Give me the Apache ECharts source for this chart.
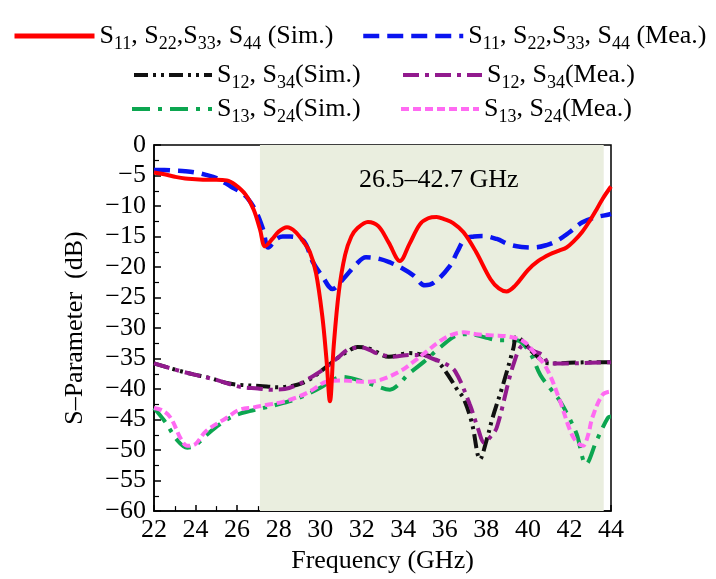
<!DOCTYPE html>
<html><head><meta charset="utf-8">
<script src="https://cdn.jsdelivr.net/npm/echarts@6/dist/echarts.min.js"></script>
<style>html,body{margin:0;padding:0;background:#fff}#c{width:716px;height:579px}</style>
</head><body><div id="c"></div>
<script>
// ---------- data ----------
const xTicks = [22,24,26,28,30,32,34,36,38,40,42,44];
const bandRange = [27.1, 43.65];
const bandLabel = '26.5–42.7 GHz';

const s11SimF = [22,22.5,23,23.5,24,24.5,25,25.5,25.9,26.4,26.8,27.1,27.35,27.7,28.0,28.4,28.8,29.2,29.5,29.8,30.1,30.3,30.47,30.65,30.9,31.2,31.5,31.8,32.3,32.8,33.3,33.84,34.3,34.8,35.2,35.6,36.0,36.4,36.9,37.5,38.2,38.6,38.97,39.4,40.0,40.5,41.06,41.5,41.86,42.2,42.6,43.0,43.3,43.6,44];
const s11SimV = [-4.5,-4.8,-5.2,-5.5,-5.6,-5.7,-5.7,-5.8,-6.5,-8.1,-10.6,-13.8,-16.6,-15.4,-14.2,-13.5,-14.2,-15.9,-17.5,-21,-28,-35,-42,-33,-24,-18,-15,-13.6,-12.6,-13.3,-16,-19,-16.2,-13,-12,-11.8,-12.2,-12.8,-14.3,-17.5,-22,-23.5,-24,-23,-20.5,-19,-17.9,-17.3,-16.8,-15.8,-14.3,-12.3,-10.6,-8.8,-6.8];

const s11MeaF = [22,22.5,23,23.5,24,24.5,25,25.7,26.2,26.5,26.9,27.25,27.5,27.9,28.2,28.55,29.2,29.65,30.1,30.6,31.1,31.75,32.2,32.9,33.4,33.84,34.5,35.04,35.5,36.25,36.6,36.97,37.4,37.8,38.5,39.1,39.7,40.3,40.9,41.4,42.0,42.6,43.2,43.9,44];
const s11MeaV = [-4.1,-4.1,-4.2,-4.3,-4.5,-4.9,-5.4,-6.8,-7.8,-8.7,-10.8,-13.8,-16.8,-15.4,-15.0,-15.0,-15.7,-19.2,-21.5,-23.6,-22,-19.5,-18.4,-18.7,-19.3,-20,-21.4,-23,-22.5,-19.8,-17.5,-15.4,-15.0,-14.9,-15.4,-16.3,-16.7,-16.8,-16.4,-15.7,-14.3,-12.7,-11.9,-11.4,-11.3];

const s12SimF = [22,23,23.9,24.7,25.5,26.1,27.1,28,28.9,29.5,30.1,30.8,31.3,31.8,32.4,33.3,34.3,35.0,35.4,35.8,36.25,36.6,36.9,37.3,37.7,38.0,38.3,38.8,39.3,39.45,39.8,40.3,41.05,42,43,44];
const s12SimV = [-35.8,-36.8,-37.6,-38.2,-39.0,-39.3,-39.5,-39.7,-39.3,-38.4,-36.9,-35.0,-33.9,-33.1,-33.4,-34.7,-34.1,-34.4,-34.8,-36,-38.2,-40.1,-41.5,-45.5,-51.5,-48.5,-44.7,-39.3,-33.3,-31.4,-32.3,-34.2,-35.8,-35.7,-35.6,-35.6];

const s12MeaF = [22,23,23.9,25,26.1,27,27.6,28.3,28.9,29.35,30.1,30.8,31.5,32.0,32.4,32.7,33.5,34.3,35.0,35.4,36.0,36.5,37.2,37.6,37.9,38.2,38.5,39.3,39.8,40.3,40.7,41.05,42,43,44];
const s12MeaV = [-35.8,-36.8,-37.6,-38.5,-39.6,-39.9,-40.1,-40.0,-39.3,-38.5,-36.9,-35.0,-33.3,-33.2,-33.6,-34.1,-34.7,-34.4,-34.5,-35.0,-35.8,-37.1,-42.5,-46.5,-48.8,-47.8,-46.3,-36.0,-32.8,-33.8,-34.4,-35.8,-35.8,-35.7,-35.6];

const s13SimF = [22,22.5,23.15,23.6,24,24.5,25,25.5,26,26.6,27.4,28.2,28.8,29.35,30,30.6,31.1,31.5,32.1,32.7,33.36,33.8,34.2,35.0,35.8,36.6,37.2,38,38.65,39.45,40.1,40.6,41.1,41.55,42,42.35,42.8,43.3,43.85,44];
const s13SimV = [-43.1,-45.2,-48.5,-49.6,-49.2,-47.6,-46.2,-45.0,-44.2,-43.6,-43,-42.3,-41.7,-40.9,-39.8,-38.5,-38.0,-38.2,-38.8,-39.5,-40.1,-39.2,-37.7,-35.5,-33.1,-31.2,-31.0,-31.6,-32.0,-32.0,-34.1,-37.7,-40,-42,-44.8,-47.4,-52.3,-48.5,-44.7,-44.5];

const s13MeaF = [22,22.4,22.8,23.3,23.6,24,24.5,25.5,26.1,26.8,27.4,28.2,29.0,29.6,30.3,31,31.6,32.2,32.9,33.84,34.5,35.1,35.7,36.25,36.9,37.5,38.3,39.1,39.8,40.3,40.9,41.55,42.0,42.3,42.65,42.9,43.1,43.6,44];
const s13MeaV = [-43.1,-43.5,-44.7,-48.2,-49.3,-49.0,-46.9,-44.7,-43.4,-43.0,-42.6,-42.1,-41.2,-40.2,-38.8,-38.6,-38.7,-38.8,-38.5,-37.1,-35.5,-33.9,-32.3,-31.2,-30.7,-31.0,-31.2,-31.4,-32.2,-34,-36.6,-42,-46.5,-48.5,-49.3,-47.5,-44.7,-40.9,-40.4];

const seriesNames = ['s11sim','s11mea','s12sim','s12mea','s13sim','s13mea'];
const legendRich = {
  s11sim: '{n|S}{s|11}{n|, S}{s|22}{n|,S}{s|33}{n|, S}{s|44}{n| (Sim.)}',
  s11mea: '{n|S}{s|11}{n|, S}{s|22}{n|,S}{s|33}{n|, S}{s|44}{n| (Mea.)}',
  s12sim: '{n|S}{s|12}{n|, S}{s|34}{n|(Sim.)}',
  s12mea: '{n|S}{s|12}{n|, S}{s|34}{n|(Mea.)}',
  s13sim: '{n|S}{s|13}{n|, S}{s|24}{n|(Sim.)}',
  s13mea: '{n|S}{s|13}{n|, S}{s|24}{n|(Mea.)}'
};

// ---------- chart ----------
const FONT = "'Liberation Serif', 'Times New Roman', serif";
const zip = (f, v) => f.map((x, i) => [x, v[i]]);
const chart = echarts.init(document.getElementById('c'), null, {renderer: 'canvas'});

const styles = {
  s11sim: {color: '#ff0000', width: 4, type: 'solid'},
  s11mea: {color: '#0a14f0', width: 4.5, type: [16, 8]},
  s12sim: {color: '#111111', width: 4, type: [14, 5, 3, 5, 3, 5]},
  s12mea: {color: '#921a8e', width: 4, type: [16, 6, 4, 6]},
  s13sim: {color: '#0ca650', width: 4, type: [18, 8, 4, 8]},
  s13mea: {color: '#ff6af2', width: 4, type: [8, 4]}
};
const dataMap = {
  s11sim: zip(s11SimF, s11SimV), s11mea: zip(s11MeaF, s11MeaV),
  s12sim: zip(s12SimF, s12SimV), s12mea: zip(s12MeaF, s12MeaV),
  s13sim: zip(s13SimF, s13SimV), s13mea: zip(s13MeaF, s13MeaV)
};
const zOrder = {s11sim: 8, s11mea: 7, s12sim: 4, s12mea: 5, s13sim: 3, s13mea: 6};

const series = [{
  type: 'line', name: 'band', data: [], z: 0, silent: true,
  markArea: {silent: true, itemStyle: {color: '#eaeedf'}, data: [[{xAxis: bandRange[0]}, {xAxis: bandRange[1]}]]}
}];
seriesNames.forEach(n => {
  series.push({
    type: 'line', name: n, data: dataMap[n], symbol: 'none', smooth: 0.35,
    z: zOrder[n], color: styles[n].color,
    lineStyle: {color: styles[n].color, width: styles[n].width, type: styles[n].type}
  });
});

const richStyle = {
  n: {fontFamily: FONT, fontSize: 26, color: '#000'},
  s: {fontFamily: FONT, fontSize: 18, color: '#000', padding: [16, 0, 0, 0]}
};
function mkLegend(name, left, rowY, w) {
  const st = styles[name];
  return {
    data: [name], left: left, top: rowY - 7, padding: 0, itemWidth: w, itemHeight: 14,
    selectedMode: false,
    itemStyle: {opacity: 0, borderWidth: 0},
    lineStyle: {color: st.color, width: name === 's11sim' ? 5 : st.width, type: st.type},
    formatter: nm => legendRich[nm],
    textStyle: {rich: richStyle}
  };
}

const option = {
  animation: false,
  backgroundColor: '#fff',
  textStyle: {fontFamily: FONT},
  grid: {left: 154, right: 105, top: 145, bottom: 65, show: true, borderColor: '#000', borderWidth: 1.5, backgroundColor: 'transparent'},
  legend: [
    mkLegend('s11sim', 12, 30, 80),
    mkLegend('s11mea', 361, 30, 100),
    mkLegend('s12sim', 132, 69, 78),
    mkLegend('s12mea', 401, 69, 79),
    mkLegend('s13sim', 130, 103, 80),
    mkLegend('s13mea', 399, 103, 78)
  ],
  xAxis: {
    type: 'value', min: 22, max: 44, interval: 2,
    name: 'Frequency (GHz)', nameLocation: 'middle', nameGap: 32,
    nameTextStyle: {fontFamily: FONT, fontSize: 26, color: '#000'},
    axisLine: {onZero: false, lineStyle: {color: '#000', width: 1.5}},
    axisTick: {inside: true, length: 6, lineStyle: {color: '#000', width: 1.5}},
    minorTick: {show: true, splitNumber: 2, length: 5, lineStyle: {color: '#000', width: 1.2}},
    axisLabel: {fontFamily: FONT, fontSize: 26, color: '#000', margin: 6, formatter: v => xTicks.includes(v) ? String(v) : ''},
    splitLine: {show: false}
  },
  yAxis: {
    type: 'value', min: -60, max: 0, interval: 5,
    name: 'S–Parameter  (dB)', nameLocation: 'middle', nameGap: 66, nameRotate: 90,
    nameTextStyle: {fontFamily: FONT, fontSize: 26, color: '#000'},
    axisLine: {onZero: false, lineStyle: {color: '#000', width: 1.5}},
    axisTick: {inside: true, length: 7, lineStyle: {color: '#000', width: 1.5}},
    minorTick: {show: true, splitNumber: 2, length: 5, lineStyle: {color: '#000', width: 1.2}},
    axisLabel: {fontFamily: FONT, fontSize: 26, color: '#000', margin: 8, formatter: v => v < 0 ? '−' + (-v) : String(v)},
    splitLine: {show: false}
  },
  graphic: [{
    type: 'text', left: 359, top: 167, z: 20,
    style: {text: bandLabel, fontFamily: FONT, fontSize: 26, fill: '#000'}
  }],
  series: series
};
chart.setOption(option);
</script></body></html>
